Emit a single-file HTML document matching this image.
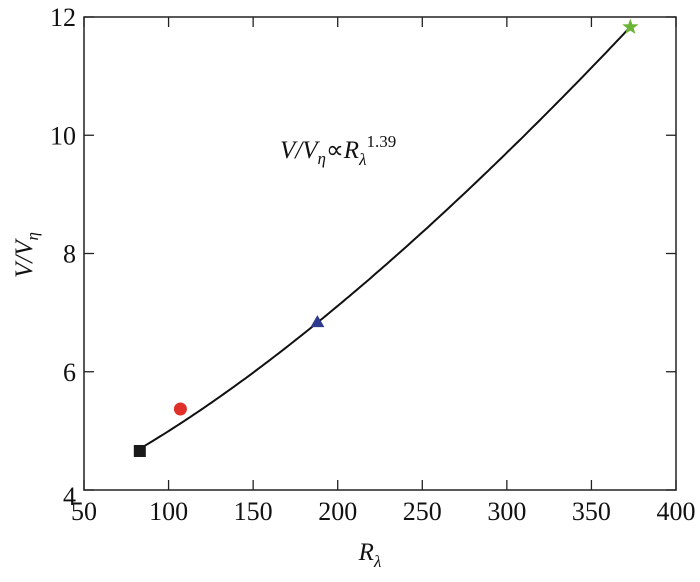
<!DOCTYPE html>
<html><head><meta charset="utf-8"><style>
body{margin:0;background:#fff;}
svg text{font-family:"Liberation Serif",serif;fill:#111;}
</style></head><body>
<svg width="700" height="577">
<g id="g"></g>
<text x="280" y="158" font-size="25" font-style="italic">V/V<tspan font-size="17" dy="6">η</tspan><tspan dy="-6" font-style="normal">∝</tspan>R<tspan font-size="17" dy="7">λ</tspan><tspan font-size="17" dy="-18" font-style="normal">1.39</tspan></text>
<text transform="translate(32,255) rotate(-90)" text-anchor="middle" font-size="25" font-style="italic">V/V<tspan font-size="17" dy="6">η</tspan></text>
<text x="370" y="560" text-anchor="middle" font-size="25" font-style="italic">R<tspan font-size="17" dy="7">λ</tspan></text>
</svg>
<script>
const xTicks=[50,100,150,200,250,300,350,400];
const yTicks=[4,6,8,10,12];
const ptX=[83,107,188,373];
const ptY=[4.66,5.37,6.84,11.83];
const ptShape=['square','circle','triangle','star'];
const fitC=3.69, fitB=0.002168, fitExp=1.39;
const L=84,R=676,T=17,B=490;
const sx=v=>L+(v-50)/350*(R-L);
const sy=v=>B-(v-4)/8*(B-T);
const ns='http://www.w3.org/2000/svg';
const g=document.getElementById('g');
function mk(t,a,p){const e=document.createElementNS(ns,t);for(const k in a)e.setAttribute(k,a[k]);(p||g).appendChild(e);return e;}
const frame=mk('rect',{x:L,y:T,width:R-L,height:B-T,fill:'none',stroke:'#222','stroke-width':1.5});


xTicks.forEach(v=>{
 const x=sx(v);
 const tk=mk('line',{x1:x,x2:x,y1:B,y2:B-10,stroke:'#222','stroke-width':1.3});
 
 
 const tk2=mk('line',{x1:x,x2:x,y1:T,y2:T+10,stroke:'#222','stroke-width':1.3});
 
 
 const t=mk('text',{x:x,y:B+30,'text-anchor':'middle','font-size':26});
 t.textContent=v;
 
 
});
yTicks.forEach(v=>{
 const y=sy(v);
 const tk=mk('line',{x1:L,x2:L+10,y1:y,y2:y,stroke:'#222','stroke-width':1.3});
 
 
 const tk2=mk('line',{x1:R,x2:R-10,y1:y,y2:y,stroke:'#222','stroke-width':1.3});
 
 
 const t=mk('text',{x:L-8,y:y+9+(v===4?6:0),'text-anchor':'end','font-size':26});
 t.textContent=v;
 
 
});
let d='';
for(let r=ptX[0];r<=ptX[3];r+=2){const v=fitC+fitB*Math.pow(r,fitExp);d+=(d?'L':'M')+sx(r).toFixed(1)+','+sy(v).toFixed(1);}
const fit=mk('path',{d:d,fill:'none',stroke:'#111','stroke-width':2});


ptX.forEach((v,i)=>{
 const x=sx(v),y=sy(ptY[i]);let e;
 if(ptShape[i]==='square')e=mk('rect',{x:x-6,y:y-6,width:12,height:12,fill:'#1a1a1a'});
 else if(ptShape[i]==='circle')e=mk('circle',{cx:x,cy:y,r:6.5,fill:'#e0302a'});
 else if(ptShape[i]==='triangle')e=mk('polygon',{points:`${x},${y-7} ${x+7},${y+5} ${x-7},${y+5}`,fill:'#2e3a8c'});
 else{let p=[];for(let k=0;k<10;k++){const a=-Math.PI/2+k*Math.PI/5,rr=k%2?3.5:8.5;p.push((x+rr*Math.cos(a)).toFixed(1)+','+(y+rr*Math.sin(a)).toFixed(1));}e=mk('polygon',{points:p.join(' '),fill:'#6ab536'});}
 
 
});
</script>
</body></html>
